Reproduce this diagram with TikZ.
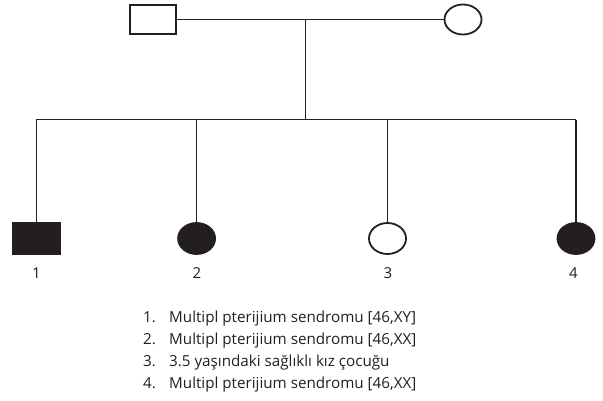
\documentclass[tikz,border=0pt]{standalone}
\usepackage{fontspec}
\setmainfont{Open Sans}
\usetikzlibrary{shapes.geometric}
\definecolor{ink}{HTML}{231F20}
\begin{document}
\begin{tikzpicture}[x=1pt,y=-1pt,
  line/.style={draw=ink,line width=1.4pt},
  male/.style={rectangle,draw=ink,line width=1.8pt,inner sep=0pt,outer sep=0pt,minimum width=46pt,minimum height=29pt},
  female/.style={ellipse,draw=ink,line width=1.8pt,inner sep=0pt,outer sep=0pt,minimum width=37pt,minimum height=30pt},
  affected/.style={fill=ink},
  idlabel/.style={text=ink,font=\fontsize{15}{18}\selectfont,inner sep=0pt},
  legend/.style={text=ink,font=\fontsize{15.2}{18}\selectfont,inner sep=0pt,anchor=base west}]
\useasboundingbox (0,0) rectangle (603,400);

% parents
\node[male] (father) at (153,19.5) {};
\node[female] (mother) at (463,19.5) {};
\coordinate (mate) at (305.3,19.5);
\coordinate (sib) at (305.3,119.5);
\draw[line] (father.east) -- (mother.west);
\draw[line] (mate) -- (sib);

% children
\node[male,affected,minimum width=47pt,minimum height=32pt] (c1) at (36.3,238.5) {};
\node[female,affected,minimum height=31pt] (c2) at (196.6,238.5) {};
\node[female,minimum height=31pt] (c3) at (387.5,238.5) {};
\node[female,affected,minimum height=31pt] (c4) at (576,238.5) {};

\coordinate (s1) at (c1.north |- sib);
\coordinate (s2) at (c2.north |- sib);
\coordinate (s3) at (c3.north |- sib);
\coordinate (s4) at (c4.north |- sib);
\draw[line] (s1) -- (s4);
\draw[line] (s1) -- (c1.north);
\draw[line] (s2) -- (c2.north);
\draw[line] (s3) -- (c3.north);
\draw[line] (s4) -- (c4.north);

% individual numbers
\node[idlabel] (n1) at (36.5,273.5) {1};
\node[idlabel] (n2) at (197,273.5) {2};
\node[idlabel] (n3) at (388,273.5) {3};
\node[idlabel] (n4) at (573.5,273.5) {4};

% key
\node[legend] (k1) at (143,322) {1.};
\node[legend] (t1) at (169,322) {Multipl pterijium sendromu [46,XY]};
\node[legend] (k2) at (143,344) {2.};
\node[legend] (t2) at (169,344) {Multipl pterijium sendromu [46,XX]};
\node[legend] (k3) at (143,366) {3.};
\node[legend] (t3) at (169,366) {3.5 yaşındaki sağlıklı kız çocuğu};
\node[legend] (k4) at (143,388) {4.};
\node[legend] (t4) at (169,388) {Multipl pterijium sendromu [46,XX]};
\end{tikzpicture}
\end{document}
